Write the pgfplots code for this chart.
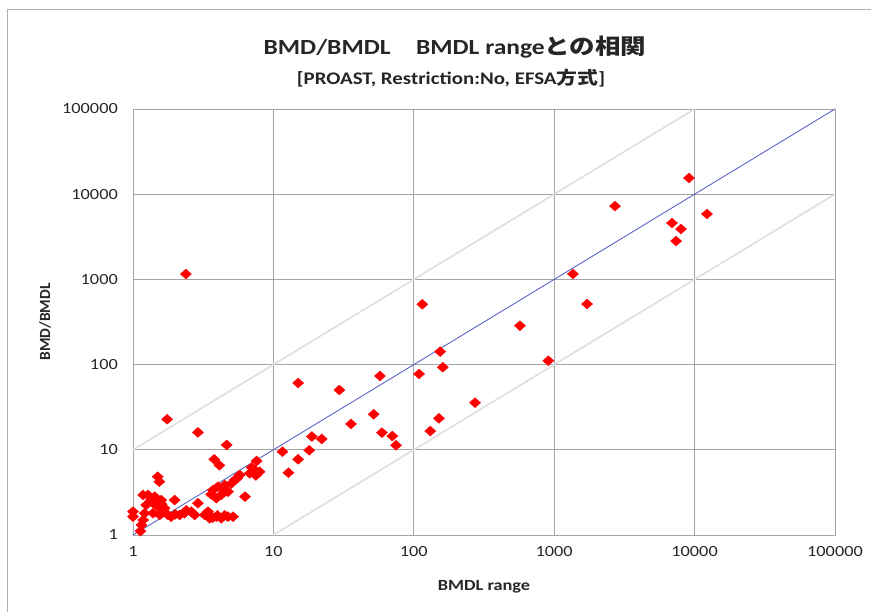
\documentclass[border=0pt]{standalone}
\usepackage{fontspec}
\usepackage{pgfplots}
\pgfplotsset{compat=1.18}
\setmainfont{Carlito}[FakeStretch=1.18]
\newfontfamily\plainfont{Carlito}
\newfontfamily\cjk{Noto Sans CJK JP}[FakeStretch=1.18]
\definecolor{gridgray}{RGB}{165,165,165}
\definecolor{diaggray}{RGB}{222,222,222}
\definecolor{blueline}{RGB}{90,100,200}
\begin{document}
\begin{tikzpicture}
\useasboundingbox (-133pt,-77pt) rectangle (738pt,535pt);
\draw[gray!60, line width=1pt] (-125pt,-77pt) -- (-125pt,525pt) -- (738pt,525pt);
\begin{axis}[
  at={(0,0)}, anchor=south west,
  xmode=log, ymode=log,
  xmin=1, xmax=100000, ymin=1, ymax=100000,
  width=702pt, height=426pt, scale only axis,
  grid=major,
  major grid style={draw=gridgray, line width=0.8pt},
  axis line style={draw=gridgray, line width=0.8pt},
  xminorticks=false, yminorticks=false,
  major tick length=0pt,
  log ticks with fixed point,
  /pgf/number format/1000 sep={},
  /pgf/number format/assume math mode=true,
  xtick={1,10,100,1000,10000,100000},
  ytick={1,10,100,1000,10000,100000},
  tick label style={font=\fontsize{15.5}{18}\selectfont, text=black!85},
  xticklabel style={anchor=center, yshift=-17pt},
  yticklabel style={anchor=east, inner sep=0pt, xshift=-15pt},
  clip=false,
]
\addplot[diaggray, line width=1.6pt] coordinates {(1,10) (10000,100000)};
\addplot[diaggray, line width=1.6pt] coordinates {(10,1) (100000,10000)};
\addplot[blueline, line width=0.9pt] coordinates {(1,1) (100000,100000)};
\addplot[only marks, mark=square*, mark size=3.5pt,
  mark options={xscale=1.12, rotate=45, fill=red, draw=red}] coordinates {
(9120,15500) (2710,7250) (12250,5860) (6900,4590) (8000,3900) (7380,2820)
(2.38,1157) (1360,1157) (1713,514) (115,510) (570,286) (908,111)
(154,142) (161,93) (109,77.6) (57.4,73.5) (15.0,60.8) (29.5,50.3)
(273,35.7) (51.8,26.1) (151,23.4) (35.7,20.1) (131,16.6) (59.3,15.9)
(70.3,14.5) (18.8,14.3) (22.1,13.4) (74.7,11.3) (18.0,9.87) (11.6,9.5)
(15.0,7.73) (12.8,5.38)
(1.75,22.8) (2.9,16.0) (4.65,11.4) (3.79,7.73) (4.12,6.58) (7.6,7.39)
(1.5,4.83) (1.54,4.22) (1.0,1.88) (1.0,1.64) (1.18,2.95) (1.28,2.95)
(1.43,2.82) (1.59,2.57) (1.39,2.36) (1.24,2.25) (1.51,2.15) (1.68,2.06)
(1.21,1.8) (1.18,1.5) (1.15,1.31) (1.13,1.11) (1.39,1.8) (1.55,1.72)
(1.77,1.72) (1.98,2.57) (1.87,1.64) (2.15,1.72) (2.33,1.8) (2.6,1.88)
(2.9,2.36) (2.75,1.72) (3.24,1.72) (3.52,1.57) (3.92,1.64) (4.25,1.57)
(4.75,1.64) (5.16,1.64) (3.42,1.88) (3.71,3.37) (4.03,3.69) (4.5,3.86)
(4.75,3.22) (5.3,4.42) (5.75,5.06) (6.28,2.82) (6.78,5.3) (7.36,5.8)
(7.98,5.53) (4.25,2.95) (3.92,2.7)
(4.4,3.4) (5.0,4.0) (3.6,3.0) (5.5,4.6) (7.0,6.2) (7.5,5.0)
(4.0,1.7) (3.7,1.6) (4.5,1.7) (1.45,2.5) (1.6,2.3) (1.35,2.6)
(2.0,1.75) (2.4,1.95) (1.65,1.9)
};
\end{axis}
\node[font=\bfseries\fontsize{15.5}{18}\selectfont, text=black!85] at (351pt,-52pt) {BMDL range};
\node[font=\plainfont\bfseries\fontsize{15.5}{18}\selectfont, text=black!85, rotate=90] at (-88pt,213pt) {BMD/BMDL};
\node[font=\bfseries\fontsize{21.6}{24}\selectfont, text=black!85] at (322pt,488pt) {BMD/BMDL{\cjk 　}BMDL range{\cjk との相関}};
\node[font=\bfseries\fontsize{17.7}{20}\selectfont, text=black!85] at (318pt,457pt) {[PROAST, Restriction:No, EFSA{\cjk 方式}]};
\end{tikzpicture}
\end{document}
